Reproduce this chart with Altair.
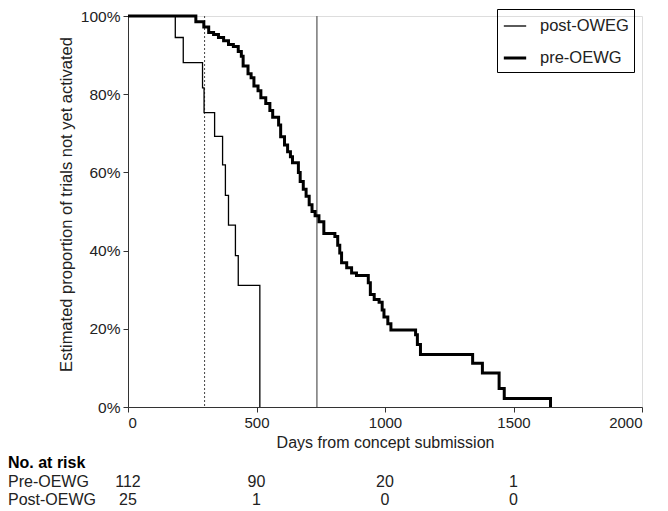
import altair as alt
import pandas as pd

# ---- Kaplan-Meier style curves ----
pre_days = [0, 264, 295, 314, 333, 352, 372, 391, 410, 429, 441, 448, 467, 479, 490,
            506, 517, 536, 552, 563, 586, 594, 609, 621, 632, 640, 663, 670, 682, 693,
            705, 716, 728, 743, 762, 805, 816, 824, 831, 851, 870, 889, 935, 943, 958,
            977, 989, 996, 1011, 1023, 1119, 1126, 1138, 1341, 1379, 1444, 1464, 1644]
pre_pct = [100, 98.5, 97.2, 95.8, 95.3, 94.5, 93.7, 92.7, 92.2, 90.9, 89.7, 87.2, 85.2, 84.2, 82.1,
           80.9, 79.1, 77.6, 75.8, 74.1, 72.1, 69.1, 67.0, 65.3, 64.0, 62.5, 60.0, 57.7, 55.7, 53.9,
           51.7, 50.0, 48.9, 47.4, 44.4, 43.6, 41.4, 39.4, 36.9, 35.6, 34.3, 33.6, 31.8, 28.8, 27.5,
           26.8, 24.8, 23.0, 21.3, 19.7, 18.5, 16.0, 13.4, 11.2, 8.7, 4.7, 2.2, 0]

post_days = [0, 184, 215, 290, 296, 337, 368, 379, 391, 418, 429, 513]
post_pct = [100, 94.5, 88.1, 81.6, 75.3, 69.2, 61.9, 54.1, 46.5, 38.7, 31.1, 0]

series_names = ["post-OWEG", "pre-OEWG"]

# reference lines (days)
dotted_line_day = [298]
solid_line_day = [735]

# number at risk table
risk_days = [0, 500, 1000, 1500]
risk_pre = [112, 90, 20, 1]
risk_post = [25, 1, 0, 0]
row_labels = ["No. at risk", "Pre-OEWG", "Post-OEWG"]

x_ticks = [0, 500, 1000, 1500, 2000]
y_ticks = [0, 20, 40, 60, 80, 100]

# ---- build tables ----
curves = pd.concat([
    pd.DataFrame({"day": post_days, "pct": post_pct, "group": series_names[0]}),
    pd.DataFrame({"day": pre_days, "pct": pre_pct, "group": series_names[1]}),
], ignore_index=True)

FONT = "Liberation Sans"
TXT = "#222222"
AX = "#333333"

xscale = alt.Scale(domain=[0, 2000], nice=False)
yscale = alt.Scale(domain=[0, 100], nice=False)

lines = alt.Chart(curves).mark_line(interpolate="step-after", color="black").encode(
    x=alt.X("day:Q", scale=xscale,
            axis=alt.Axis(title="Days from concept submission", values=x_ticks, grid=False,
                          format="d",
                          labelFontSize=15, titleFontSize=16, titleFontWeight="normal",
                          labelColor=TXT, titleColor=TXT, domainColor=AX, tickColor=AX,
                          tickSize=5, labelPadding=3, titlePadding=4)),
    y=alt.Y("pct:Q", scale=yscale,
            axis=alt.Axis(title="Estimated proportion of trials not yet activated",
                          values=y_ticks, labelExpr="datum.value + '%'", grid=False,
                          labelFontSize=15.5, titleFontSize=16.5, titleFontWeight="normal",
                          labelColor=TXT, titleColor=TXT, domainColor=AX, tickColor=AX,
                          tickSize=5, labelPadding=3, titlePadding=6, titleY=188)),
    strokeWidth=alt.StrokeWidth("group:N",
                                scale=alt.Scale(domain=series_names, range=[1.3, 3]),
                                legend=alt.Legend(title=None, orient="none", legendX=369, legendY=-7,
                                                  strokeColor="black", padding=5,
                                                  symbolType="stroke", symbolSize=500,
                                                  symbolStrokeColor="black", rowPadding=10,
                                                  labelFontSize=16.5, labelOffset=12, labelColor=TXT)),
    detail="group:N",
)

dotted = alt.Chart(pd.DataFrame({"day": dotted_line_day})).mark_rule(
    color="#444444", strokeWidth=1, strokeDash=[2, 2]).encode(x=alt.X("day:Q", scale=xscale))
solid = alt.Chart(pd.DataFrame({"day": solid_line_day})).mark_rule(
    color="#777777", strokeWidth=1.5).encode(x=alt.X("day:Q", scale=xscale))

row_y = [447, 466, 484]

def risk_row(values, y):
    df = pd.DataFrame({"day": risk_days, "n": values})
    return alt.Chart(df).mark_text(fontSize=16, color=TXT, align="center", baseline="middle").encode(
        x=alt.X("day:Q", scale=xscale), y=alt.value(y), text="n:Q")

def label_row(label, y, bold=False):
    df = pd.DataFrame({"label": [label]})
    return alt.Chart(df).mark_text(fontSize=16, color="black" if bold else TXT, align="left",
                                   baseline="middle",
                                   fontWeight="bold" if bold else "normal").encode(
        x=alt.value(-120), y=alt.value(y), text="label:N")

chart = alt.layer(
    dotted, solid, lines,
    risk_row(risk_pre, row_y[1]), risk_row(risk_post, row_y[2]),
    label_row(row_labels[0], row_y[0], bold=True),
    label_row(row_labels[1], row_y[1]),
    label_row(row_labels[2], row_y[2]),
).properties(width=514, height=391, padding=0).configure_view(stroke=None).configure(font=FONT)

chart.save("out.html", embed_options={"renderer": "svg", "actions": False})
